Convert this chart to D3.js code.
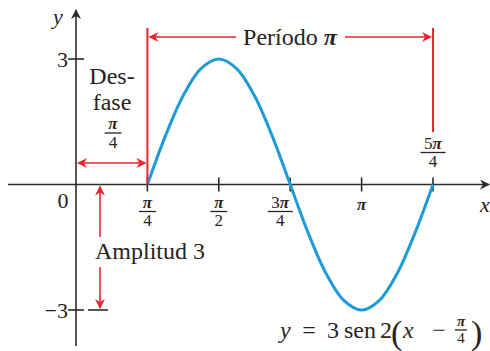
<!DOCTYPE html>
<html>
<head>
<meta charset="utf-8">
<script src="https://cdn.jsdelivr.net/npm/d3@7"></script>
<style>
  body { margin: 0; background: #fff; }
  text { font-family: "Liberation Serif", "DejaVu Serif", serif; fill: #2a2220; }
</style>
</head>
<body>
<div id="chart"></div>
<script>
// Data ///////////////////////////////////////////////////////////////////
var PI = Math.PI;

// curve points (x in radians, y value)
var curveX = [PI/4, 5*PI/16, 3*PI/8, 7*PI/16, PI/2, 9*PI/16, 5*PI/8, 11*PI/16, 3*PI/4,
              13*PI/16, 7*PI/8, 15*PI/16, PI, 17*PI/16, 9*PI/8, 19*PI/16, 5*PI/4];
var curveY = [0, 1.15, 2.12, 2.77, 3, 2.77, 2.12, 1.15, 0,
              -1.15, -2.12, -2.77, -3, -2.77, -2.12, -1.15, 0];

// x tick positions and their fraction labels
var xTicks = [PI/4, PI/2, 3*PI/4, PI, 5*PI/4];
var xTickNum = ["π", "π", "3π", "π", "5π"];
var xTickDen = ["4", "2", "4", "", "4"];

var yTicks = [3, -3];
var yTickLabels = ["3", "−3"];

// annotation values
var shift = PI/4;
var period = PI;
var amplitude = 3;

// Setup //////////////////////////////////////////////////////////////////
var W = 490, H = 351;
var svg = d3.select("#chart").append("svg")
  .attr("width", W).attr("height", H);

var x = d3.scaleLinear().domain([0, 5*PI/4]).range([76, 433]);
var y = d3.scaleLinear().domain([-3, 3]).range([310, 59]);

var red = "#e8262f", blue = "#1e9bd7", axisCol = "#2b2b2b";

var defs = svg.append("defs");
function marker(id, color) {
  defs.append("marker")
    .attr("id", id)
    .attr("viewBox", "0 0 10 10")
    .attr("refX", 9).attr("refY", 5)
    .attr("markerWidth", 10).attr("markerHeight", 10)
    .attr("markerUnits", "userSpaceOnUse")
    .attr("orient", "auto-start-reverse")
    .append("path")
      .attr("d", "M0,0 L10,5 L0,10 L3,5 Z")
      .style("fill", color);
}
marker("arrRed", red);
marker("arrAxis", axisCol);

// fraction helper: numerator, bar, denominator centred at cx; bar at cy
function frac(cx, cy, num, den, size, barW) {
  var g = svg.append("g");
  var t = g.append("text")
    .attr("x", cx).attr("y", cy - 4)
    .attr("text-anchor", "middle")
    .style("font-size", size + "px");
  // digits upright, π italic
  num.split("").forEach(function(ch) {
    t.append("tspan").style("font-style", ch === "π" ? "italic" : "normal")
      .style("font-weight", ch === "π" ? "bold" : "normal").text(ch);
  });
  g.append("line")
    .attr("x1", cx - barW/2).attr("x2", cx + barW/2)
    .attr("y1", cy).attr("y2", cy)
    .style("stroke", "#2a2220").style("stroke-width", 1.3);
  g.append("text")
    .attr("x", cx).attr("y", cy + size*0.88)
    .attr("text-anchor", "middle")
    .style("font-size", size + "px")
    .text(den);
}

// Axes ///////////////////////////////////////////////////////////////////
// x axis
svg.append("line")
  .attr("x1", 8).attr("x2", W - 1)
  .attr("y1", y(0)).attr("y2", y(0))
  .style("stroke", axisCol).style("stroke-width", 1.6)
  .attr("marker-end", "url(#arrAxis)");
// y axis
svg.append("line")
  .attr("x1", x(0)).attr("x2", x(0))
  .attr("y1", 346).attr("y2", 10)
  .style("stroke", axisCol).style("stroke-width", 1.6)
  .attr("marker-end", "url(#arrAxis)");

svg.append("g").selectAll("line")
  .data(xTicks).enter().append("line")
    .attr("x1", function(d) { return x(d); }).attr("x2", function(d) { return x(d); })
    .attr("y1", y(0) - 7).attr("y2", y(0) + 7)
    .style("stroke", axisCol).style("stroke-width", 1.6);

svg.append("g").selectAll("line")
  .data(yTicks).enter().append("line")
    .attr("x1", x(0) - 8).attr("x2", x(0) + 8)
    .attr("y1", function(d) { return y(d); }).attr("y2", function(d) { return y(d); })
    .style("stroke", axisCol).style("stroke-width", 1.6);

xTicks.forEach(function(d, i) {
  var last = i === xTicks.length - 1;
  var cx = x(d);
  if (xTickNum[i] === "3π") cx -= 10;   // nudged left of the curve
  if (xTickDen[i] === "") {
    svg.append("text").attr("x", cx).attr("y", y(0) + 25)
      .attr("text-anchor", "middle").style("font-size", "17px")
      .style("font-style", "italic").style("font-weight", "bold").text(xTickNum[i]);
  } else if (last) {
    // 5π/4 label sits above the axis
    frac(cx, y(0) - 32, xTickNum[i], xTickDen[i], 17, 25);
  } else {
    frac(cx, y(0) + 27, xTickNum[i], xTickDen[i], 17, xTickNum[i].length > 1 ? 25 : 17);
  }
});

yTicks.forEach(function(d, i) {
  svg.append("text").attr("x", x(0) - 8).attr("y", y(d) + 8)
    .attr("text-anchor", "end").style("font-size", "22px").text(yTickLabels[i]);
});
svg.append("text").attr("x", 63).attr("y", y(0) + 23)
  .attr("text-anchor", "middle").style("font-size", "22px").text("0");

svg.append("text").attr("x", 58).attr("y", 24)
  .attr("text-anchor", "middle").style("font-size", "22px")
  .style("font-style", "italic").text("y");
svg.append("text").attr("x", 480).attr("y", 212)
  .style("font-size", "22px").style("font-style", "italic").text("x");

// Curve //////////////////////////////////////////////////////////////////
var pts = curveX.map(function(d, i) { return [d, curveY[i]]; });
svg.append("path")
  .datum(pts)
  .attr("fill", "none")
  .style("stroke", blue).style("stroke-width", 3)
  .attr("d", d3.line()
    .x(function(d) { return x(d[0]); })
    .y(function(d) { return y(d[1]); })
    .curve(d3.curveCatmullRom));

// Annotations ////////////////////////////////////////////////////////////
var topY = 28, perY = 37;
// red verticals at start and end of the period
svg.append("line")
  .attr("x1", x(shift)).attr("x2", x(shift))
  .attr("y1", topY).attr("y2", y(0))
  .style("stroke", red).style("stroke-width", 2);
svg.append("line")
  .attr("x1", x(shift + period)).attr("x2", x(shift + period))
  .attr("y1", topY).attr("y2", 132)
  .style("stroke", red).style("stroke-width", 2);

// period arrows
svg.append("line")
  .attr("x1", 236).attr("x2", x(shift) + 2)
  .attr("y1", perY).attr("y2", perY)
  .style("stroke", red).style("stroke-width", 1.6)
  .attr("marker-end", "url(#arrRed)");
svg.append("line")
  .attr("x1", 345).attr("x2", x(shift + period) - 2)
  .attr("y1", perY).attr("y2", perY)
  .style("stroke", red).style("stroke-width", 1.6)
  .attr("marker-end", "url(#arrRed)");
var pt = svg.append("text").attr("x", 290).attr("y", perY + 8)
  .attr("text-anchor", "middle").style("font-size", "24px");
pt.append("tspan").text("Período ");
pt.append("tspan").style("font-style", "italic").style("font-weight", "bold").text("π");

// phase shift
svg.append("line")
  .attr("x1", x(0) + 2).attr("x2", x(shift) - 2)
  .attr("y1", 163).attr("y2", 163)
  .style("stroke", red).style("stroke-width", 1.6)
  .attr("marker-start", "url(#arrRed)")
  .attr("marker-end", "url(#arrRed)");
svg.append("text").attr("x", 112).attr("y", 84)
  .attr("text-anchor", "middle").style("font-size", "24px").text("Des-");
svg.append("text").attr("x", 112).attr("y", 110)
  .attr("text-anchor", "middle").style("font-size", "24px").text("fase");
frac(113, 133, "π", "4", 17, 17);

// amplitude
var ampX = 100;
svg.append("line")
  .attr("x1", ampX).attr("x2", ampX)
  .attr("y1", 237).attr("y2", y(0) + 2)
  .style("stroke", red).style("stroke-width", 1.6)
  .attr("marker-end", "url(#arrRed)");
svg.append("line")
  .attr("x1", ampX).attr("x2", ampX)
  .attr("y1", 267).attr("y2", y(-amplitude) - 2)
  .style("stroke", red).style("stroke-width", 1.6)
  .attr("marker-end", "url(#arrRed)");
svg.append("line")
  .attr("x1", 88).attr("x2", 108)
  .attr("y1", y(-amplitude)).attr("y2", y(-amplitude))
  .style("stroke", axisCol).style("stroke-width", 1.6);
svg.append("text").attr("x", 95).attr("y", 259)
  .style("font-size", "24px").text("Amplitud " + amplitude);

// equation
var eqY = 338;
svg.append("text").attr("x", 280).attr("y", eqY)
  .style("font-size", "24px").style("font-style", "italic").text("y");
svg.append("text").attr("x", 309).attr("y", eqY)
  .attr("text-anchor", "middle").style("font-size", "24px").text("=");
svg.append("text").attr("x", 327).attr("y", eqY)
  .style("font-size", "24px").text("3");
svg.append("text").attr("x", 344).attr("y", eqY)
  .style("font-size", "24px").text("sen");
svg.append("text").attr("x", 380).attr("y", eqY)
  .style("font-size", "24px").text("2");
svg.append("text").attr("x", 391).attr("y", eqY + 6)
  .style("font-size", "34px").text("(");
svg.append("text").attr("x", 403).attr("y", eqY)
  .style("font-size", "24px").style("font-style", "italic").text("x");
svg.append("text").attr("x", 439).attr("y", eqY)
  .attr("text-anchor", "middle").style("font-size", "24px").text("−");
frac(461, 330, "π", "4", 15, 12);
svg.append("text").attr("x", 471).attr("y", eqY + 6)
  .style("font-size", "34px").text(")");
</script>
</body>
</html>
